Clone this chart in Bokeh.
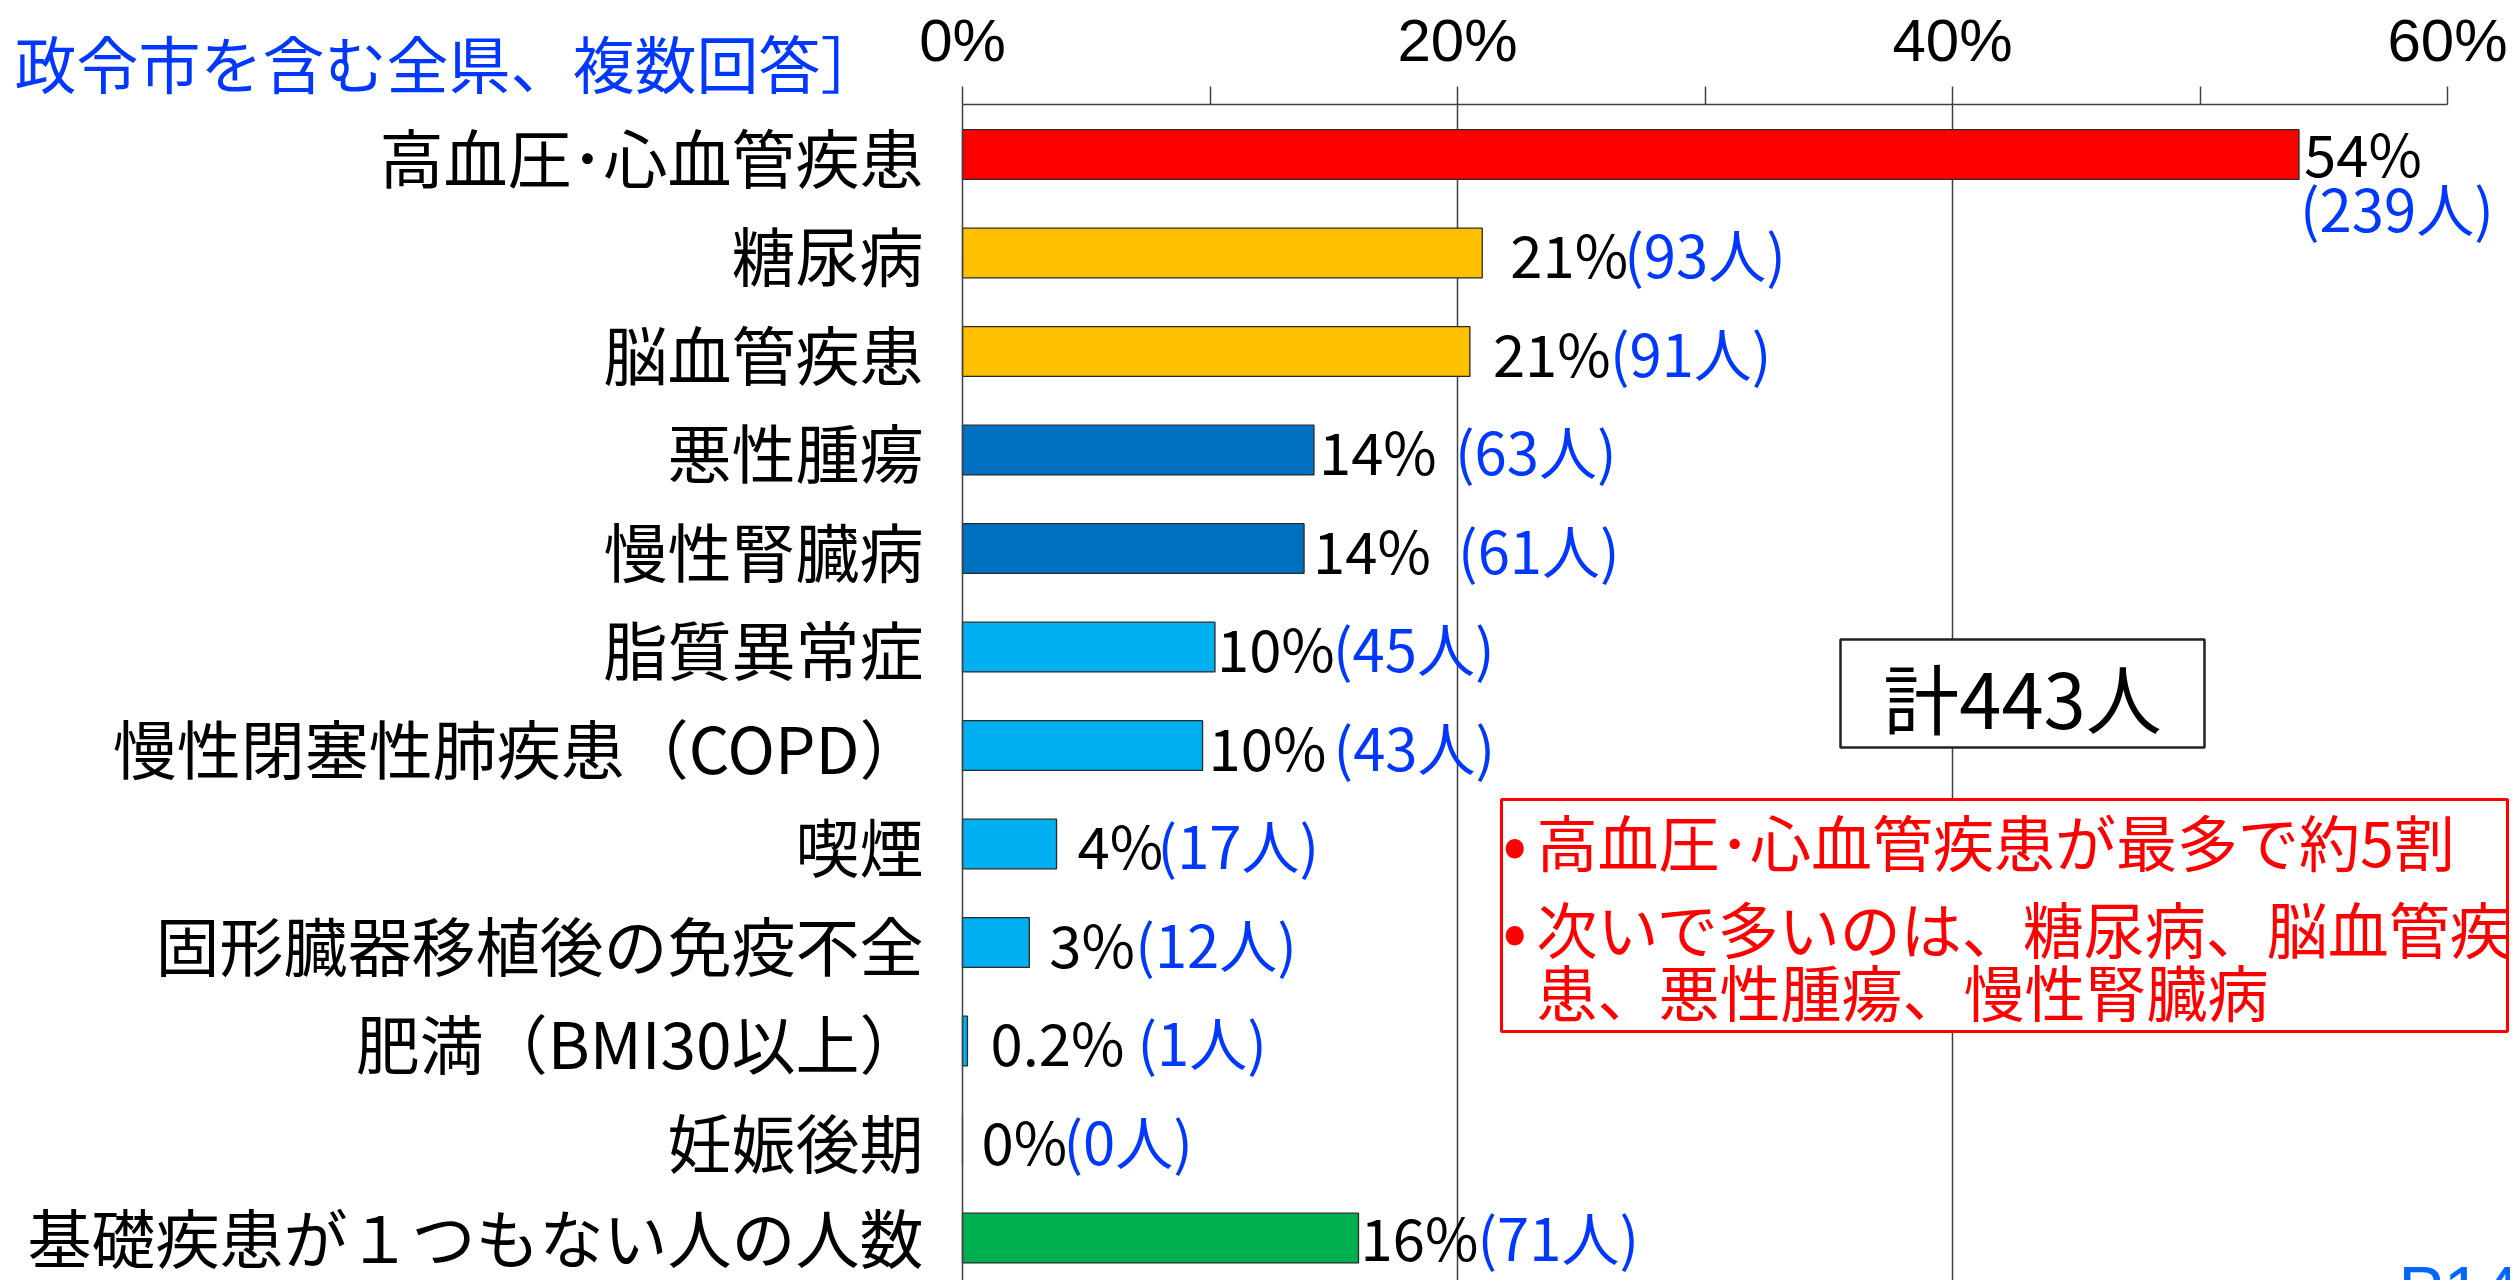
from bokeh.plotting import figure
from bokeh.models import Range1d, FixedTicker, ColumnDataSource, PrintfTickFormatter
from bokeh.core.properties import value
from bokeh.embed import file_html
from bokeh.resources import INLINE

# ---------------- data ----------------
categories = [
    "高血圧･心血管疾患", "糖尿病", "脳血管疾患", "悪性腫瘍", "慢性腎臓病",
    "脂質異常症", "慢性閉塞性肺疾患（COPD）", "喫煙", "固形臓器移植後の免疫不全",
    "肥満（BMI30以上）", "妊娠後期", "基礎疾患が１つもない人の人数",
]
share_pct = [54.0, 21.0, 20.5, 14.2, 13.8, 10.2, 9.7, 3.8, 2.7, 0.2, 0.0, 16.0]
pct_labels = ["54%", "21%", "21%", "14%", "14%", "10%", "10%", "4%", "3%", "0.2%", "0%", "16%"]
counts = [239, 93, 91, 63, 61, 45, 43, 17, 12, 1, 0, 71]
total_people = 443
x_ticks = [0, 20, 40, 60]
x_minor_ticks = [10, 30, 50]
grid_ticks = [20, 40]

# ---------------- styles ----------------
bar_colors = ["#FF0000", "#FFC000", "#FFC000", "#0070C0", "#0070C0", "#00B0F0",
              "#00B0F0", "#00B0F0", "#00B0F0", "#00B0F0", "#00B0F0", "#00B050"]
pct_dx = [5, 28, 23, 5, 9, 2, 6, 21, 20, 23, 19, 2]          # px from bar end
pct_dy = [-3, 0, 0, 0, 0, 0, 0, 0, 0, 0, 0, -2]
cnt_dx = [1, 142, 140, 141, 154, 118, 131, 101, 106, 170, 101, 119]
cnt_dy = [52, 0, 0, 0, 0, 0, 0, 0, 0, 0, 0, -2]

FONT = "Noto Sans CJK JP"
LATIN = "Liberation Sans"
AX = "#404040"
BLUE = "#0038FF"
RED = "#FF0000"

# layout: pixel geometry of the reference (page pixels)
PX_PER_PCT = 24.75
PX_PER_ROW = 98.5
X0_PX = 962      # 0 %
Y0_PX = 104      # top axis line
TOP = -0.508     # data y of the top axis line

def px_x(px):
    return (px - X0_PX) / PX_PER_PCT

def px_y(py):
    return TOP + (py - Y0_PX) / PX_PER_ROW

W, H = 2510, 1280
y_bottom = px_y(H)

p = figure(width=W, height=H,
           x_range=Range1d(px_x(0), px_x(W)),
           y_range=Range1d(y_bottom, px_y(0)),
           x_axis_location="above", output_backend="svg", toolbar_location=None,
           min_border=0, min_border_left=0, min_border_right=0,
           min_border_top=0, min_border_bottom=0)
p.outline_line_color = None
p.background_fill_color = "white"
p.border_fill_color = "white"
p.xgrid.visible = False
p.ygrid.visible = False

# top axis (percent scale)
xa = p.xaxis[0]
xa.fixed_location = TOP
xa.ticker = FixedTicker(ticks=x_ticks, minor_ticks=x_minor_ticks)
xa.bounds = (0, 60)
xa.formatter = PrintfTickFormatter(format="%d%%")
xa.axis_line_color = AX
xa.axis_line_width = 1.5
xa.major_tick_line_color = AX
xa.major_tick_line_width = 1.5
xa.minor_tick_line_color = AX
xa.minor_tick_line_width = 1.5
xa.major_tick_out = 18
xa.major_tick_in = 0
xa.minor_tick_out = 18
xa.minor_tick_in = 0
xa.major_label_standoff = 13
xa.major_label_text_font = LATIN
xa.major_label_text_font_size = "60px"
xa.major_label_text_color = "black"

# left axis with the category names
ya = p.yaxis[0]
ya.fixed_location = 0
ya.bounds = (TOP, y_bottom)
ya.ticker = FixedTicker(ticks=list(range(len(categories))))
ya.major_label_overrides = {i: c for i, c in enumerate(categories)}
ya.axis_line_color = AX
ya.axis_line_width = 1.5
ya.major_tick_line_color = None
ya.minor_tick_line_color = None
ya.major_tick_out = 0
ya.major_tick_in = 0
ya.major_label_standoff = 39
ya.major_label_text_font = FONT
ya.major_label_text_font_size = "64px"
ya.major_label_text_color = "black"

# vertical grid lines at 20 % and 40 %
p.segment(x0=grid_ticks, x1=grid_ticks, y0=[TOP] * len(grid_ticks),
          y1=[y_bottom] * len(grid_ticks), line_color=AX, line_width=1.5,
          level="underlay")

rows = list(range(len(categories)))
src = ColumnDataSource(dict(
    y=rows, v=share_pct, color=bar_colors, pct=pct_labels,
    cnt=[f"({c}人)" for c in counts],
    pdx=pct_dx, pdy=pct_dy, cdx=cnt_dx, cdy=cnt_dy,
))

p.hbar(y="y", left=0, right="v", height=0.505, fill_color="color",
       line_color="#2a2a2a", line_width=1.3, source=src)

p.text(x="v", y="y", text="pct", x_offset="pdx", y_offset="pdy", source=src,
       text_font=value(FONT), text_font_size="58px", text_color="black",
       text_baseline="middle", text_align="left")
p.text(x="v", y="y", text="cnt", x_offset="cdx", y_offset="cdy", source=src,
       text_font=value(FONT), text_font_size="58px", text_color=BLUE,
       text_baseline="middle", text_align="left")

# total box
p.quad(left=[px_x(1840)], right=[px_x(2204)], top=[px_y(639)], bottom=[px_y(747)],
       fill_color="white", line_color="#222222", line_width=2.5)
p.text(x=[px_x(2022)], y=[px_y(695)], text=[f"計{total_people}人"],
       text_font=value(FONT), text_font_size="76px", text_color="black",
       text_baseline="middle", text_align="center")

# red comment box
p.quad(left=[px_x(1501)], right=[px_x(2507)], top=[px_y(799)], bottom=[px_y(1031)],
       fill_color="white", line_color=RED, line_width=3)
p.text(x=[px_x(1502)] * 2, y=[px_y(838), px_y(925)], text=["•", "•"],
       text_font=value(FONT), text_font_size="72px", text_color=RED,
       text_baseline="middle", text_align="left")
p.text(x=[px_x(1536)] * 3, y=[px_y(840), px_y(927), px_y(990)],
       text=["高血圧･心血管疾患が最多で約5割", "次いで多いのは、糖尿病、脳血管疾", "患、悪性腫瘍、慢性腎臓病"],
       text_font=value(FONT), text_font_size="61px", text_color=RED,
       text_baseline="middle", text_align="left")

# heading fragment at the top left
p.text(x=[px_x(14)], y=[px_y(61)], text=["政令市を含む全県、複数回答］"],
       text_font=value(FONT), text_font_size="62px", text_color=BLUE,
       text_baseline="middle", text_align="left")

# page number (cut at the bottom edge, as in the reference)
p.text(x=[px_x(2398)], y=[px_y(1251)], text=["P14"],
       text_font=value(LATIN), text_font_size="68px", text_color="#0066FF",
       text_baseline="top", text_align="left")

open("out.html", "w").write(file_html(p, INLINE))
